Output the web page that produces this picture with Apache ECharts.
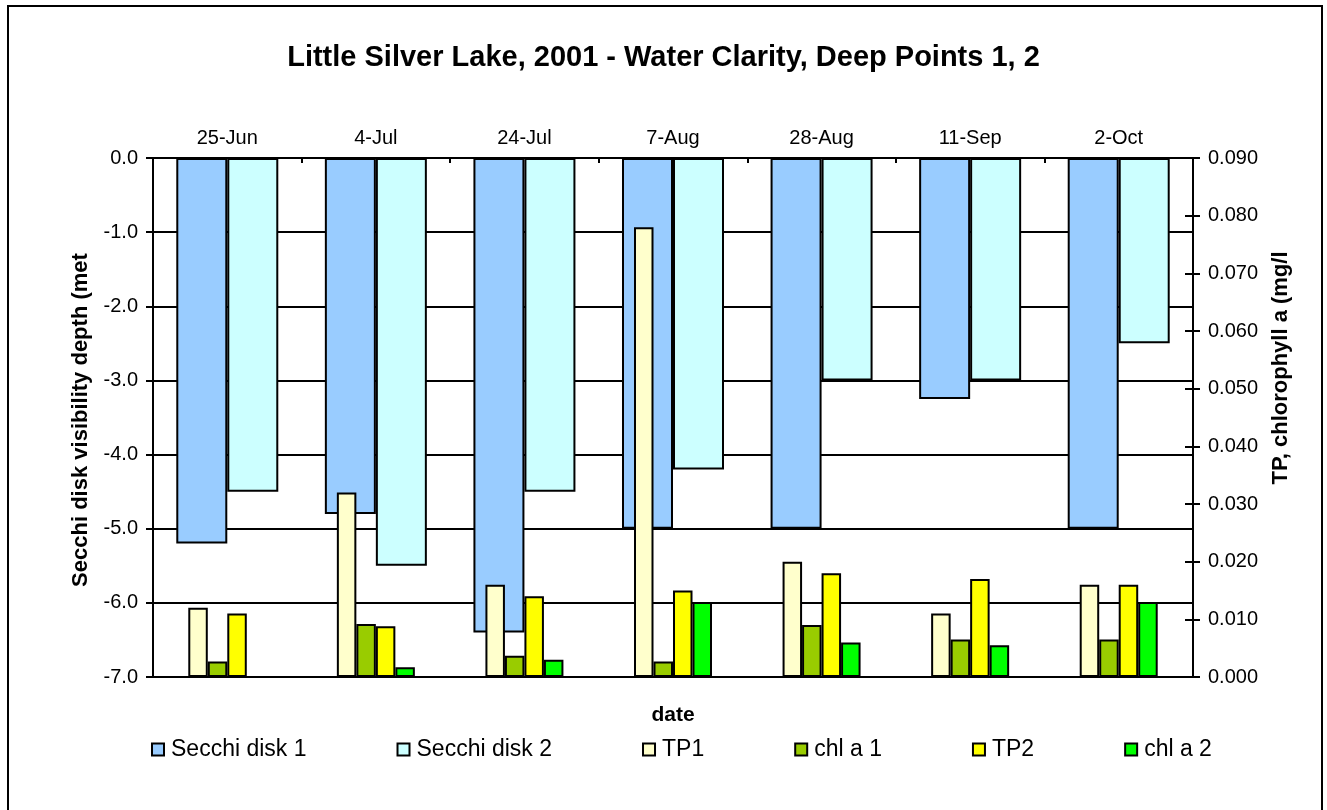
<!DOCTYPE html>
<html>
<head>
<meta charset="utf-8">
<script src="https://cdn.jsdelivr.net/npm/echarts@6/dist/echarts.min.js"></script>
<style>
html,body{margin:0;padding:0;background:#fff;}
#chart{width:1327px;height:810px;}
</style>
</head>
<body>
<div id="chart"></div>
<script>
var categories = ['25-Jun', '4-Jul', '24-Jul', '7-Aug', '28-Aug', '11-Sep', '2-Oct'];
var secchi1 = [-5.2, -4.8, -6.4, -5.0, -5.0, -3.25, -5.0];
var secchi2 = [-4.5, -5.5, -4.5, -4.2, -3.0, -3.0, -2.5];
var tp1 = [0.012, 0.032, 0.016, 0.078, 0.020, 0.011, 0.016];
var chla1 = [0.0027, 0.0092, 0.0037, 0.0027, 0.009, 0.0065, 0.0065];
var tp2 = [0.011, 0.0088, 0.014, 0.015, 0.018, 0.017, 0.016];
var chla2 = [null, 0.0017, 0.003, 0.013, 0.006, 0.0055, 0.013];
var leftTicks = {min: -7, max: 0, interval: 1};
var rightTicks = {min: 0, max: 0.09, interval: 0.01};

var FONT = 'Liberation Sans, Arial, sans-serif';
var chart = echarts.init(document.getElementById('chart'), null, {renderer: 'canvas'});

function bar(name, data, color, xi, yi, w) {
  return {
    name: name, type: 'bar', data: data, xAxisIndex: xi, yAxisIndex: yi,
    barWidth: w, barGap: '0%',
    itemStyle: {color: color, borderColor: '#000', borderWidth: 2},
    emphasis: {disabled: true}
  };
}

var option = {
  animation: false,
  backgroundColor: '#fff',
  textStyle: {fontFamily: FONT},
  title: {
    text: 'Little Silver Lake, 2001 - Water Clarity, Deep Points 1, 2',
    left: 'center', top: 43, padding: 0,
    textStyle: {fontFamily: FONT, fontSize: 29, fontWeight: 'bold', color: '#000'}
  },
  legend: {
    left: 151, top: 738, padding: 0, itemWidth: 12, itemHeight: 12, itemGap: 90,
    icon: 'rect',
    textStyle: {fontFamily: FONT, fontSize: 23, color: '#000', padding: [0, 0, 0, 2]},
    data: ['Secchi disk 1', 'Secchi disk 2', 'TP1', 'chl a 1', 'TP2', 'chl a 2']
  },
  grid: {left: 153, right: 134, top: 158, bottom: 133, containLabel: false},
  xAxis: [
    {
      type: 'category', data: categories, position: 'top', gridIndex: 0,
      axisLine: {lineStyle: {color: '#000', width: 2}},
      axisTick: {show: true, inside: true, length: 5, lineStyle: {color: '#000', width: 2}},
      axisLabel: {fontFamily: FONT, fontSize: 20, color: '#000', margin: 10},
      splitLine: {show: false}
    },
    {
      type: 'category', data: categories, position: 'bottom', gridIndex: 0,
      axisLine: {lineStyle: {color: '#000', width: 2}},
      axisTick: {show: false},
      axisLabel: {show: false},
      splitLine: {show: false}
    }
  ],
  yAxis: [
    {
      type: 'value', position: 'left', min: leftTicks.min, max: leftTicks.max, interval: leftTicks.interval,
      axisLine: {show: true, lineStyle: {color: '#000', width: 2}},
      axisTick: {show: true, length: 7, lineStyle: {color: '#000', width: 2}},
      axisLabel: {fontFamily: FONT, fontSize: 20, color: '#000', margin: 15,
        formatter: function (v) { return v.toFixed(1); }},
      splitLine: {show: true, lineStyle: {color: '#000', width: 1.8}}
    },
    {
      type: 'value', position: 'right', min: rightTicks.min, max: rightTicks.max, interval: rightTicks.interval,
      axisLine: {show: true, lineStyle: {color: '#000', width: 2}},
      axisTick: {show: true, length: 7, lineStyle: {color: '#000', width: 2}},
      axisLabel: {fontFamily: FONT, fontSize: 20, color: '#000', margin: 15,
        formatter: function (v) { return v.toFixed(3); }},
      splitLine: {show: false}
    },
    {
      type: 'value', position: 'right', min: rightTicks.min, max: rightTicks.max, interval: rightTicks.interval,
      axisLine: {show: false},
      axisTick: {show: true, inside: true, length: 8, lineStyle: {color: '#000', width: 2}},
      axisLabel: {show: false},
      splitLine: {show: false}
    }
  ],
  graphic: [
    {type: 'rect', shape: {x: 8, y: 6, width: 1314, height: 830}, style: {fill: 'none', stroke: '#000', lineWidth: 2}, silent: true},
    {type: 'text', x: 81, y: 420, rotation: Math.PI / 2,
      style: {text: 'Secchi disk visibility depth (met', fontFamily: FONT, fontSize: 22, fontWeight: 'bold', fill: '#000', align: 'center', verticalAlign: 'middle'}},
    {type: 'text', x: 1281, y: 368, rotation: Math.PI / 2,
      style: {text: 'TP, chlorophyll a (mg/l', fontFamily: FONT, fontSize: 22, fontWeight: 'bold', fill: '#000', align: 'center', verticalAlign: 'middle'}},
    {type: 'text', x: 673, y: 715,
      style: {text: 'date', fontFamily: FONT, fontSize: 21, fontWeight: 'bold', fill: '#000', align: 'center', verticalAlign: 'middle'}}
  ],
  series: [
    bar('Secchi disk 1', secchi1, '#99CCFF', 0, 0, 51),
    bar('Secchi disk 2', secchi2, '#CCFFFF', 0, 0, 51),
    bar('TP1', tp1, '#FFFFCC', 1, 1, 19.5),
    bar('chl a 1', chla1, '#99CC00', 1, 1, 19.5),
    bar('TP2', tp2, '#FFFF00', 1, 1, 19.5),
    bar('chl a 2', chla2, '#00FF00', 1, 1, 19.5)
  ]
};
chart.setOption(option);
</script>
</body>
</html>
